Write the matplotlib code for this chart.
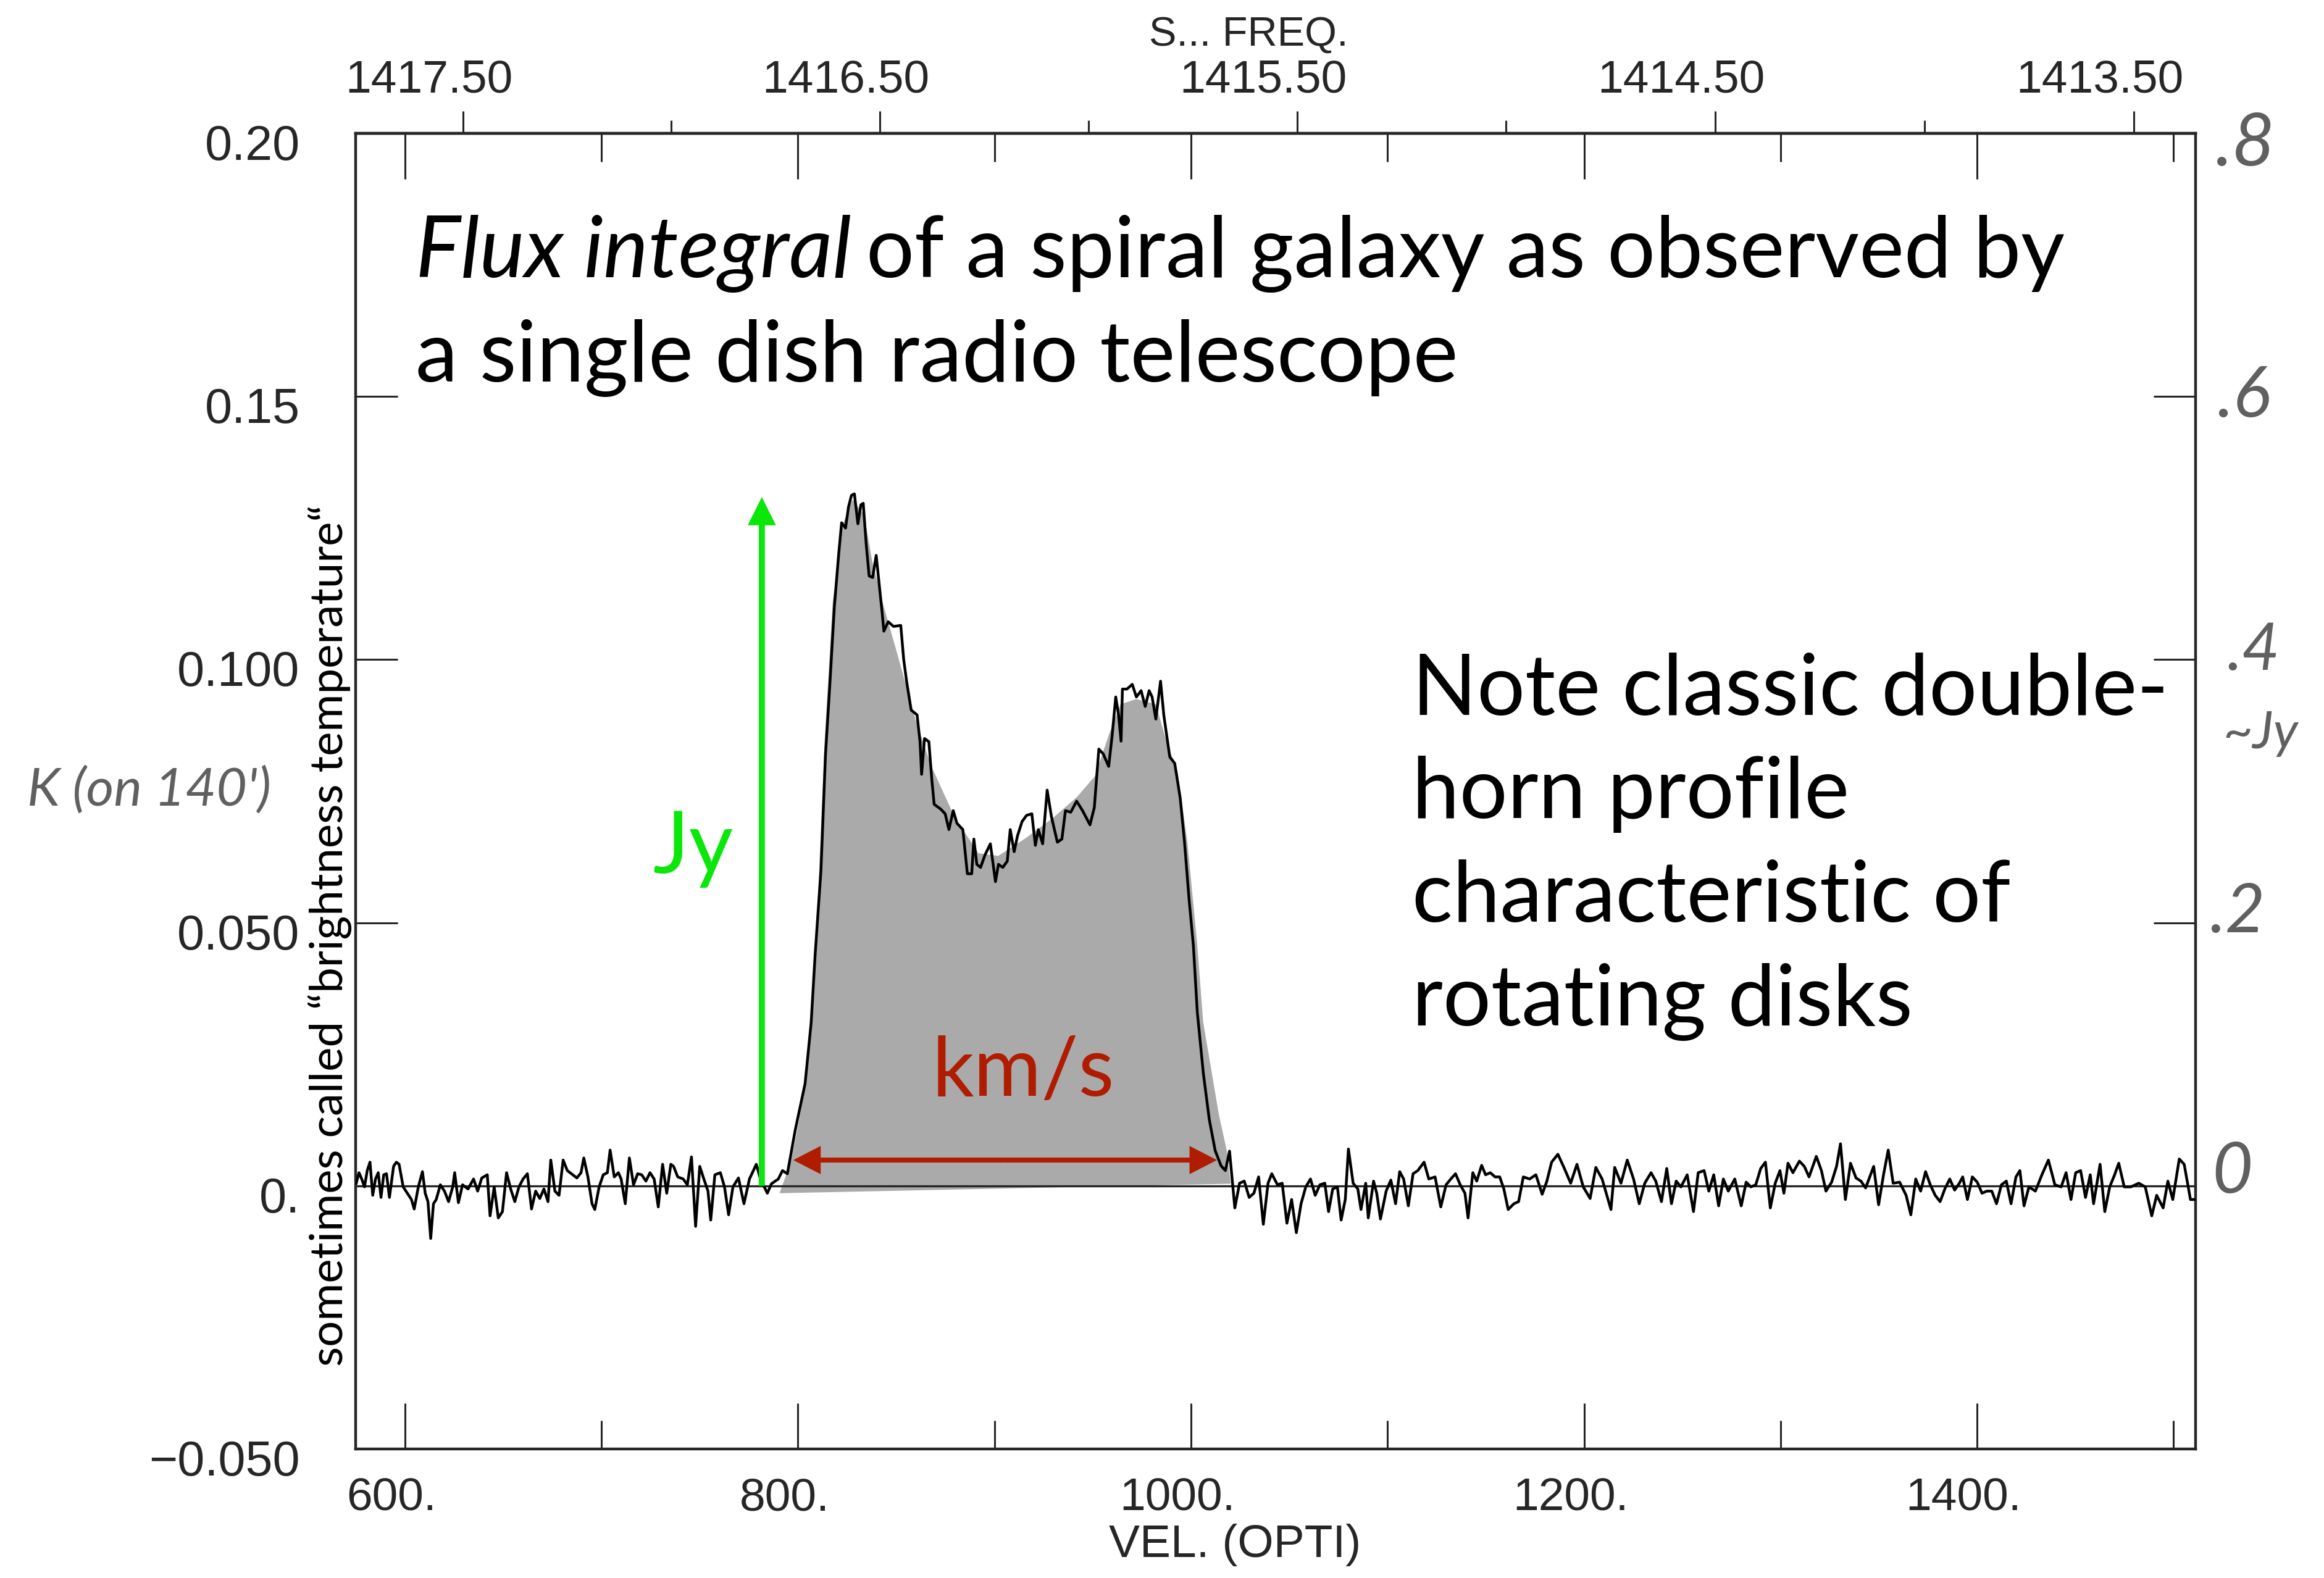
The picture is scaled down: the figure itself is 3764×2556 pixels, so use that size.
import matplotlib
matplotlib.use("Agg")
import matplotlib.pyplot as plt
from matplotlib.patches import FancyArrowPatch
from matplotlib.transforms import ScaledTranslation

W, H, DPI = 3764, 2556, 100

# constants for the sky frequency axis on top
C_KMS = 299792.458
F0 = 1420.405751
V_OFF = 15.0

# baseline below the line (km/s, K)
base_lo_vel = [575.2, 576.6, 578.0, 579.4, 580.8, 582.2, 583.6, 585.0, 586.4, 587.8,
               589.2, 590.6, 592.1, 594.2, 595.6, 597.0, 599.1, 601.2, 603.3, 604.7,
               606.8, 608.9, 610.3, 611.7, 613.1, 614.5, 615.9, 618.0, 620.1, 622.2,
               624.3, 625.3, 627.2, 629.3, 632.1, 634.9, 637.0, 639.1, 641.9, 643.3,
               645.4, 647.5, 649.6, 651.7, 653.8, 655.9, 658.0, 660.1, 662.3, 664.4,
               666.5, 668.6, 670.7, 672.8, 674.2, 676.3, 678.4, 680.5, 682.6, 685.4,
               687.5, 689.6, 691.0, 693.1, 695.2, 696.6, 698.8, 700.9, 703.0, 704.4,
               706.5, 708.6, 710.0, 712.1, 714.2, 716.3, 718.4, 720.5, 722.6, 724.7,
               726.8, 728.9, 731.1, 733.2, 735.3, 736.7, 738.8, 741.6, 743.7, 745.8,
               747.9, 750.0, 752.1, 754.2, 755.6, 757.7, 760.5, 762.6, 764.7, 766.9,
               769.7, 772.5, 775.3, 778.8, 780.9, 784.4, 786.5, 790.0, 792.1]
base_lo_k = [0.0005, 0.0025, 0.0013, -0.0002, 0.0029, 0.0045, -0.0018, 0.0013, 0.0025, -0.0022,
             0.0021, 0.0023, -0.0022, 0.0037, 0.0045, 0.0041, -0.0002, -0.0014, -0.0026, -0.0044,
             -0.0002, 0.0027, -0.0014, -0.0030, -0.0100, -0.0034, -0.0026, 0.0002, -0.0010, -0.0030,
             -0.0002, 0.0025, -0.0032, 0.0002, -0.0006, 0.0013, -0.0010, 0.0015, 0.0021, -0.0057,
             -0.0002, -0.0061, -0.0049, 0.0025, -0.0006, -0.0030, -0.0002, 0.0013, 0.0023, -0.0044,
             -0.0010, -0.0024, -0.0006, -0.0030, 0.0049, -0.0010, -0.0018, 0.0049, 0.0029, 0.0021,
             0.0015, 0.0025, 0.0053, 0.0017, -0.0034, -0.0045, -0.0002, 0.0021, 0.0025, 0.0068,
             0.0017, 0.0025, 0.0013, -0.0034, 0.0053, 0.0002, 0.0023, 0.0021, 0.0009, 0.0025,
             0.0013, -0.0040, 0.0041, -0.0014, 0.0041, 0.0037, 0.0017, 0.0013, 0.0002, 0.0055,
             -0.0077, 0.0037, 0.0013, -0.0010, -0.0065, 0.0021, 0.0025, -0.0002, -0.0055, -0.0002,
             0.0015, -0.0034, 0.0013, 0.0041, 0.0013, -0.0014, 0.0004, 0.0013, 0.0029]

# the double horn line itself
line_vel = [794.6, 798.6, 803.6, 806.7, 808.7, 811.7, 814.0, 816.2, 818.5, 820.7,
            822.2, 824.2, 825.7, 827.2, 828.7, 830.5, 832.0, 833.2, 834.7, 836.2,
            838.0, 839.8, 841.3, 842.8, 843.7, 845.9, 848.6, 852.3, 853.8, 855.3,
            857.6, 860.6, 862.1, 862.9, 864.4, 866.6, 868.1, 869.3, 872.6, 874.9,
            876.8, 879.0, 880.9, 883.9, 886.2, 888.4, 889.5, 891.0, 892.9, 895.2,
            897.9, 900.5, 902.0, 904.2, 906.5, 908.0, 910.0, 911.7, 914.0, 916.3,
            919.0, 920.8, 922.3, 924.5, 926.8, 929.0, 932.0, 934.3, 936.1, 938.8,
            941.8, 944.8, 948.6, 950.8, 953.1, 955.3, 958.1, 959.9, 961.7, 963.2,
            964.4, 965.1, 967.4, 970.1, 972.2, 974.6, 976.7, 978.7, 980.2, 982.1,
            984.5, 986.2, 989.2, 991.7, 994.5, 996.7, 999.0, 1001.2, 1003.2, 1006.3,
            1009.3, 1012.3, 1015.3, 1017.5, 1019.6, 1022.3]
line_k = [0.0023, 0.0106, 0.0194, 0.0310, 0.0438, 0.0600, 0.0820, 0.0952, 0.1100, 0.1200,
          0.1260, 0.1250, 0.1290, 0.1312, 0.1315, 0.1258, 0.1294, 0.1297, 0.1220, 0.1159,
          0.1156, 0.1198, 0.1144, 0.1090, 0.1054, 0.1072, 0.1063, 0.1065, 0.1000, 0.0958,
          0.0904, 0.0895, 0.0844, 0.0782, 0.0850, 0.0844, 0.0772, 0.0725, 0.0716, 0.0707,
          0.0677, 0.0713, 0.0689, 0.0677, 0.0593, 0.0593, 0.0659, 0.0611, 0.0605, 0.0629,
          0.0650, 0.0578, 0.0611, 0.0605, 0.0617, 0.0677, 0.0635, 0.0665, 0.0692, 0.0704,
          0.0707, 0.0647, 0.0677, 0.0650, 0.0752, 0.0701, 0.0653, 0.0659, 0.0713, 0.0710,
          0.0731, 0.0713, 0.0686, 0.0719, 0.0830, 0.0821, 0.0797, 0.0857, 0.0929, 0.0893,
          0.0845, 0.0944, 0.0944, 0.0953, 0.0929, 0.0941, 0.0911, 0.0941, 0.0929, 0.0887,
          0.0959, 0.0893, 0.0815, 0.0803, 0.0737, 0.0653, 0.0545, 0.0457, 0.0330, 0.0213,
          0.0126, 0.0067, 0.0038, 0.0029, 0.0066, -0.0042]

# baseline above the line
base_hi_vel = [1024.7, 1027.1, 1029.6, 1032.0, 1034.4, 1036.8, 1039.2, 1041.1, 1044.0, 1046.4,
               1048.8, 1051.2, 1053.6, 1056.0, 1058.4, 1060.8, 1063.2, 1065.6, 1068.1, 1070.0,
               1072.1, 1074.5, 1076.4, 1078.5, 1080.1, 1082.5, 1084.9, 1086.5, 1088.9, 1090.2,
               1092.9, 1094.5, 1096.4, 1099.3, 1101.7, 1104.1, 1106.2, 1108.2, 1110.6, 1113.0,
               1115.4, 1118.6, 1121.0, 1124.2, 1127.1, 1129.8, 1132.2, 1134.6, 1137.0, 1139.4,
               1141.0, 1143.4, 1145.4, 1147.9, 1149.9, 1152.3, 1154.7, 1157.1, 1159.2, 1161.4,
               1164.3, 1166.7, 1169.1, 1172.3, 1175.5, 1178.7, 1181.1, 1183.5, 1186.7, 1190.0,
               1193.2, 1196.4, 1199.6, 1203.1, 1206.0, 1209.2, 1213.7, 1215.6, 1218.8, 1222.0,
               1225.2, 1228.1, 1230.9, 1234.1, 1236.5, 1239.4, 1242.1, 1244.5, 1246.9, 1249.3,
               1252.5, 1255.7, 1258.1, 1261.1, 1263.5, 1266.0, 1268.5, 1270.9, 1273.4, 1276.7,
               1280.0, 1282.5, 1284.9, 1287.4, 1289.9, 1292.3, 1294.8, 1297.3, 1299.7, 1301.7,
               1303.8, 1306.3, 1309.6, 1312.1, 1314.5, 1318.2, 1320.8, 1323.1, 1326.0, 1328.5,
               1330.5, 1333.0, 1335.6, 1338.4, 1340.9, 1343.3, 1347.4, 1349.9, 1352.4, 1354.8,
               1357.3, 1360.6, 1363.9, 1366.3, 1368.8, 1371.3, 1373.8, 1376.2, 1378.7, 1381.2,
               1383.6, 1386.1, 1388.6, 1391.0, 1392.7, 1395.1, 1397.6, 1400.1, 1402.5, 1405.0,
               1407.5, 1409.9, 1412.4, 1414.9, 1417.3, 1419.8, 1421.8, 1423.9, 1426.4, 1429.7,
               1433.0, 1436.3, 1439.6, 1442.8, 1445.3, 1447.8, 1450.2, 1452.7, 1455.2, 1457.6,
               1459.3, 1462.6, 1465.0, 1467.5, 1470.0, 1472.1, 1474.9, 1478.2, 1482.3, 1485.6,
               1488.9, 1491.4, 1494.7, 1497.1, 1499.6, 1502.9, 1505.4, 1508.6, 1511.1]
base_hi_k = [0.0005, 0.0009, -0.0022, -0.0014, 0.0017, -0.0073, 0.0005, 0.0023, 0.0002, 0.0005,
             -0.0071, -0.0026, -0.0089, -0.0034, -0.0002, 0.0013, -0.0018, 0.0002, 0.0005, -0.0049,
             -0.0006, -0.0002, -0.0065, -0.0026, 0.0070, 0.0005, -0.0006, -0.0045, 0.0005, -0.0061,
             0.0009, -0.0014, -0.0063, -0.0010, 0.0011, -0.0034, 0.0027, 0.0013, -0.0038, 0.0023,
             0.0029, 0.0045, 0.0013, 0.0017, -0.0040, 0.0002, 0.0013, 0.0023, 0.0002, -0.0014,
             -0.0061, 0.0025, 0.0009, 0.0039, 0.0021, 0.0025, 0.0017, 0.0017, -0.0006, -0.0045,
             -0.0034, -0.0030, 0.0017, 0.0013, 0.0021, -0.0016, 0.0009, 0.0045, 0.0060, 0.0033,
             0.0005, 0.0041, -0.0002, -0.0024, 0.0035, 0.0013, -0.0045, 0.0035, 0.0005, 0.0049,
             0.0013, -0.0034, 0.0005, 0.0025, 0.0009, -0.0030, 0.0033, -0.0034, 0.0009, -0.0002,
             0.0021, -0.0049, 0.0025, 0.0029, -0.0010, 0.0021, -0.0038, 0.0013, -0.0010, 0.0013,
             -0.0038, 0.0007, -0.0002, 0.0002, 0.0033, 0.0045, -0.0042, 0.0005, 0.0029, -0.0014,
             0.0043, 0.0025, 0.0047, 0.0037, 0.0017, 0.0056, 0.0029, -0.0010, 0.0007, 0.0037,
             0.0080, -0.0026, 0.0043, 0.0015, 0.0009, -0.0004, 0.0037, -0.0036, 0.0021, 0.0068,
             0.0005, 0.0007, -0.0018, -0.0055, 0.0013, -0.0010, 0.0027, 0.0002, -0.0018, -0.0030,
             -0.0006, 0.0013, -0.0008, 0.0005, 0.0017, -0.0026, 0.0017, 0.0007, -0.0014, -0.0010,
             -0.0010, -0.0034, 0.0002, 0.0009, -0.0034, 0.0017, 0.0029, -0.0038, -0.0002, -0.0010,
             0.0021, 0.0049, 0.0002, -0.0002, 0.0025, -0.0026, 0.0025, 0.0029, -0.0022, 0.0021,
             -0.0034, 0.0041, -0.0049, -0.0002, 0.0021, 0.0043, -0.0002, -0.0002, 0.0005, -0.0002,
             -0.0057, -0.0018, -0.0042, 0.0009, -0.0026, 0.0051, 0.0041, -0.0026, -0.0026]

# smooth model of the profile, shaded grey
model_vel = [790.6, 796.6, 803.6, 808.6, 813.6, 817.7, 822.7, 827.7, 833.7, 837.7,
             843.7, 849.7, 859.8, 867.8, 879.8, 891.9, 901.9, 916.0, 930.0, 942.0,
             951.0, 958.1, 964.1, 972.1, 982.1, 988.1, 993.1, 998.2, 1003.2, 1006.2,
             1014.2, 1018.2, 1020.2]
model_k = [-0.0014, 0.0048, 0.0184, 0.0408, 0.0847, 0.1110, 0.1256, 0.1304, 0.1275, 0.1188,
           0.1100, 0.1022, 0.0886, 0.0798, 0.0700, 0.0632, 0.0627, 0.0661, 0.0700, 0.0739,
           0.0778, 0.0856, 0.0915, 0.0925, 0.0915, 0.0837, 0.0788, 0.0652, 0.0457, 0.0311,
           0.0135, 0.0067, 0.0004]

vel_ticks = [600, 800, 1000, 1200, 1400]
vel_labels = ['600.', '800.', '1000.', '1200.', '1400.']
vel_minor = [700, 900, 1100, 1300, 1500]
k_ticks = [-0.05, 0.0, 0.05, 0.10, 0.15, 0.20]
k_labels = ['\u22120.050', '0.', '0.050', '0.100', '0.15', '0.20']
freq_ticks = [1417.5, 1416.5, 1415.5, 1414.5, 1413.5]
freq_labels = ['1417.50', '1416.50', '1415.50', '1414.50', '1413.50']
freq_minor = [1417.0, 1416.0, 1415.0, 1414.0]

# arrows (data units)
jy_arrow_x, jy_arrow_top = 781.6, 0.1309
kms_left, kms_right, kms_y = 797.6, 1013.2, 0.0049

GREEN = '#0be60b'
RED = '#b01c00'
INK = '#262626'


def vel2freq(v):
    return F0 / (1.0 + (v - V_OFF) / C_KMS)


def freq2vel(f):
    return C_KMS * (F0 / f - 1.0) + V_OFF


plt.rcParams['font.family'] = ['Liberation Sans', 'DejaVu Sans']

fig = plt.figure(figsize=(W / DPI, H / DPI), dpi=DPI)
ax = fig.add_axes([576 / W, 1 - 2347 / H, (3556 - 576) / W, (2347 - 216) / H])
ax.set_xlim(574.9, 1511.2)
ax.set_ylim(-0.05, 0.20)

ax.fill(model_vel, model_k, color='#aaaaaa', lw=0, zorder=1)
ax.axhline(0, color=INK, lw=2.4, zorder=2)
ax.plot(base_lo_vel + line_vel + base_hi_vel, base_lo_k + line_k + base_hi_k,
        color='black', lw=3.2, zorder=3)

for s in ax.spines.values():
    s.set_linewidth(3.2)
    s.set_color(INK)

ax.set_xticks(vel_ticks)
ax.set_xticklabels(vel_labels)
ax.set_xticks(vel_minor, minor=True)
ax.tick_params(axis='x', which='both', direction='in', top=True, bottom=True,
               width=2.2, color=INK, labelsize=54, pad=33, labelcolor=INK)
ax.tick_params(axis='x', which='major', length=53)
ax.tick_params(axis='x', which='minor', length=33)

ax.set_yticks(k_ticks)
ax.set_yticklabels(k_labels)
ax.tick_params(axis='y', direction='in', left=True, right=True, length=49,
               width=2.2, color=INK, labelsize=57, pad=65, labelcolor=INK)

ax.set_xlabel('VEL. (OPTI)', fontsize=54, color=INK)
ax.xaxis.set_label_coords((2000 - 576) / (3556 - 576), (2347 - 2468) / (2347 - 216))

secax = ax.secondary_xaxis('top', functions=(vel2freq, freq2vel))
secax.set_xticks(freq_ticks)
secax.set_xticklabels(freq_labels)
secax.set_xticks(freq_minor, minor=True)
secax.tick_params(which='both', direction='out', width=2.2, color=INK,
                  labelsize=54, pad=11, labelcolor=INK)
secax.tick_params(which='major', length=26)
secax.tick_params(which='minor', length=15)
secax.spines['top'].set_linewidth(3.2)
secax.spines['top'].set_color(INK)

# the scanned labels sit a little off their ticks
for lab in ax.get_xticklabels():
    lab.set_transform(lab.get_transform() + ScaledTranslation(-22 / DPI, 0, fig.dpi_scale_trans))
for lab in ax.get_yticklabels():
    lab.set_transform(lab.get_transform() + ScaledTranslation(0, -14 / DPI, fig.dpi_scale_trans))
for lab in secax.get_xticklabels():
    lab.set_transform(lab.get_transform() + ScaledTranslation(-55 / DPI, 0, fig.dpi_scale_trans))

fig.text(2022 / W, 1 - 57 / H, 'S... FREQ.', fontsize=48, color=INK, ha='center', va='center')

# arrows
ax.add_patch(FancyArrowPatch((jy_arrow_x, 0.0), (jy_arrow_x, jy_arrow_top),
                             arrowstyle='simple,head_length=33,head_width=33,tail_width=7',
                             mutation_scale=1, lw=0, color=GREEN, shrinkA=0, shrinkB=0, zorder=5))
kms_mid = (kms_left + kms_right) / 2
for end in (kms_left, kms_right):
    ax.add_patch(FancyArrowPatch((kms_mid, kms_y), (end, kms_y),
                                 arrowstyle='simple,head_length=32,head_width=33,tail_width=5.8',
                                 mutation_scale=1, lw=0, color=RED, shrinkA=0, shrinkB=0, zorder=5))

# slide texts
FS = 99
t1 = fig.text(673 / W, 1 - 449 / H, 'Flux integral', family='Lato', style='italic',
              fontsize=FS, va='baseline', color='black')
fig.canvas.draw()
bb = t1.get_window_extent(renderer=fig.canvas.get_renderer())
fig.text((bb.x1 + 24) / W, 1 - 449 / H, 'of a spiral galaxy as observed by', family='Lato',
         fontsize=FS, va='baseline', color='black')
fig.text(673 / W, 1 - 618 / H, 'a single dish radio telescope', family='Lato',
         fontsize=FS, va='baseline', color='black')

note_lines = ['Note classic double-', 'horn profile', 'characteristic of', 'rotating disks']
for i, line in enumerate(note_lines):
    fig.text(2287 / W, 1 - (1157 + 168 * i) / H, line, family='Lato', fontsize=FS,
             va='baseline', color='black')

fig.text(1057 / W, 1 - 1414 / H, 'Jy', family='Lato', fontsize=100, va='baseline', color=GREEN)
fig.text(1510 / W, 1 - 1775 / H, 'km/s', family='Lato', fontsize=96, va='baseline', color=RED)

fig.text(555 / W, 1 - 2213 / H, 'sometimes called \u201cbrightness temperature\u201c',
         family='Lato', fontsize=53.5, rotation=90, rotation_mode='anchor',
         ha='left', va='baseline', color='black', zorder=6)

# pencil notes on the scan
HAND = dict(family='Lato', style='italic', color='#606060', va='baseline')
fig.text(44 / W, 1 - 1305 / H, "K (on 140')", fontsize=62, **HAND)
fig.text(3588 / W, 1 - 268 / H, '.8', fontsize=86, **HAND)
fig.text(3590 / W, 1 - 675 / H, '.6', fontsize=82, **HAND)
fig.text(3606 / W, 1 - 1085 / H, '.4', fontsize=76, **HAND)
fig.text(3600 / W, 1 - 1212 / H, '~Jy', fontsize=60, **HAND)
fig.text(3578 / W, 1 - 1510 / H, '.2', fontsize=80, **HAND)
fig.text(3582 / W, 1 - 1932 / H, '0', fontsize=82, **HAND)

fig.savefig('out.png', dpi=DPI)
